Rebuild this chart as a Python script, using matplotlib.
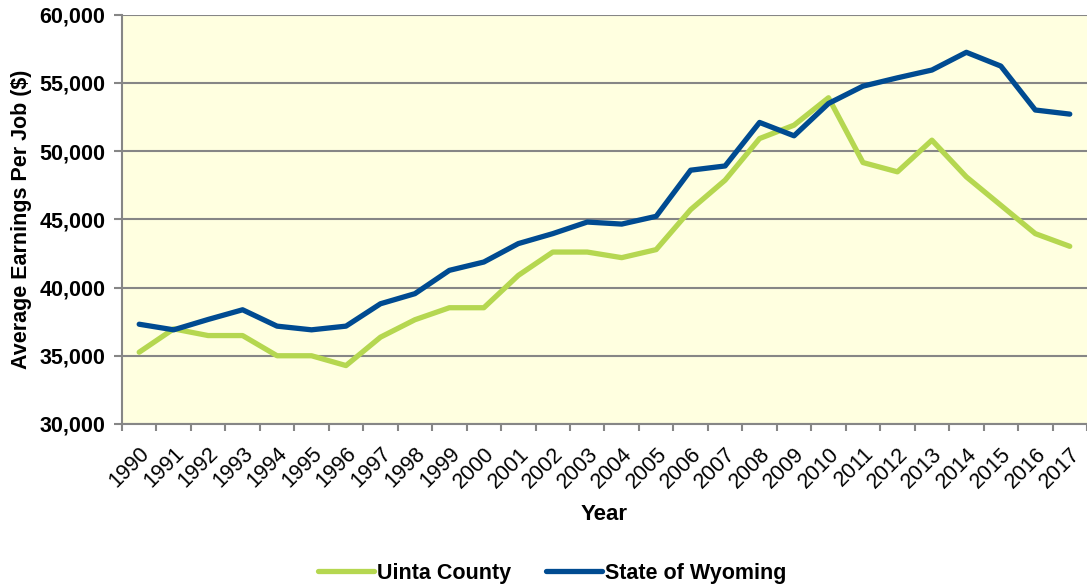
import matplotlib.pyplot as plt
import numpy as np
from matplotlib.ticker import FuncFormatter

# --- data ---
years = [str(y) for y in range(1990, 2018)]
uinta = [35260, 36970, 36480, 36480, 35000, 35000, 34280, 36360, 37640, 38520,
         38520, 40890, 42600, 42600, 42190, 42780, 45710, 47870, 50920, 51900,
         53910, 49160, 48480, 50800, 48110, 46030, 43950, 43020]
wyoming = [37310, 36900, 37660, 38370, 37170, 36900, 37170, 38810, 39550, 41260,
           41870, 43220, 43950, 44800, 44650, 45220, 48600, 48910, 52100, 51120,
           53490, 54760, 55370, 55940, 57240, 56230, 53010, 52710]

plt.rcParams['font.family'] = ['Liberation Sans', 'DejaVu Sans']

fig = plt.figure(figsize=(10.87, 5.86), dpi=100)
ax = fig.add_axes([0.1122, 0.2765, 0.8878, 0.6985])
ax.set_facecolor('#FFFFE0')

x = np.arange(len(years))
ax.plot(x, uinta, color='#B5D750', lw=3.8, label='Uinta County', solid_capstyle='round')
ax.plot(x, wyoming, color='#004B91', lw=3.8, label='State of Wyoming', solid_capstyle='round')

ax.set_xlim(-0.5, len(years) - 0.5)
ax.set_ylim(30000, 60000)
ax.set_yticks(range(30000, 60001, 5000))
ax.yaxis.set_major_formatter(FuncFormatter(lambda v, p: f'{int(v):,}'))
ax.grid(axis='y', color='#868686', lw=1.5)
ax.set_axisbelow(True)

ax.set_xticks(x)
ax.set_xticklabels(years, rotation=45, ha='right', rotation_mode='anchor', fontsize=15.5)
ax.set_xticks(np.arange(-0.5, len(years)), minor=True)
ax.tick_params(axis='x', which='major', length=0, pad=14)
ax.tick_params(axis='x', which='minor', length=5, width=1.5, color='#868686')
ax.tick_params(axis='y', length=6, width=1.5, color='#868686', pad=6, labelsize=15.5)
for lbl in ax.get_yticklabels():
    lbl.set_fontweight('bold')

for s in ['top', 'right']:
    ax.spines[s].set_visible(False)
for s in ['left', 'bottom']:
    ax.spines[s].set_color('#868686')
    ax.spines[s].set_linewidth(1.5)

ax.set_ylabel('Average Earnings Per Job ($)', fontsize=15.5, fontweight='bold', labelpad=5)
ax.set_xlabel('Year', fontsize=16, fontweight='bold', labelpad=8)

fig.legend(loc='center', bbox_to_anchor=(552 / 1087, 1 - 573 / 586), ncol=2, frameon=False,
           prop={'weight': 'bold', 'size': 15.5}, handlelength=2.6, handletextpad=0.15,
           columnspacing=1.6)

fig.savefig('out.png', dpi=100)
